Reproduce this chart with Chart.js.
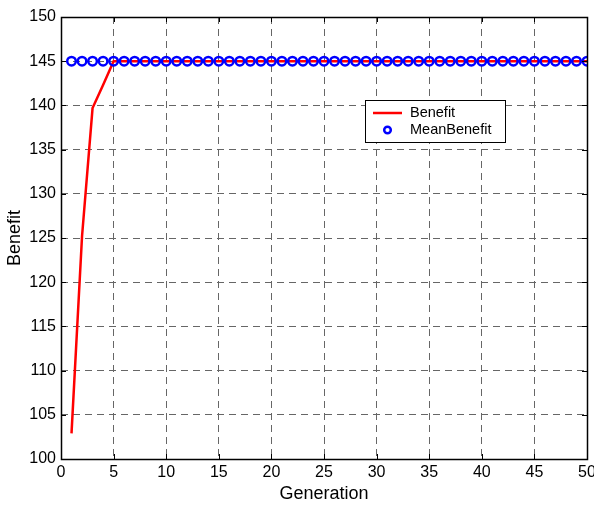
<!DOCTYPE html>
<html>
<head>
<meta charset="utf-8">
<script src="https://cdn.jsdelivr.net/npm/chart.js@4"></script>
<style>
  html, body { margin: 0; padding: 0; background: #fff; }
  #wrap { width: 594px; height: 505px; }
</style>
</head>
<body>
<div id="wrap"><canvas id="benefitChart" width="594" height="505"></canvas></div>
<script>
const generations = [1, 2, 3, 4, 5, 6, 7, 8, 9, 10, 11, 12, 13, 14, 15, 16, 17, 18, 19, 20,
    21, 22, 23, 24, 25, 26, 27, 28, 29, 30, 31, 32, 33, 34, 35, 36, 37, 38, 39, 40,
    41, 42, 43, 44, 45, 46, 47, 48, 49, 50];
const benefit = [102.9, 125.2, 139.7, 142.3, 145, 145, 145, 145, 145, 145,
    145, 145, 145, 145, 145, 145, 145, 145, 145, 145,
    145, 145, 145, 145, 145, 145, 145, 145, 145, 145,
    145, 145, 145, 145, 145, 145, 145, 145, 145, 145,
    145, 145, 145, 145, 145, 145, 145, 145, 145, 145];
const meanBenefit = [145, 145, 145, 145, 145, 145, 145, 145, 145, 145,
    145, 145, 145, 145, 145, 145, 145, 145, 145, 145,
    145, 145, 145, 145, 145, 145, 145, 145, 145, 145,
    145, 145, 145, 145, 145, 145, 145, 145, 145, 145,
    145, 145, 145, 145, 145, 145, 145, 145, 145, 145];
const xTicks = [0, 5, 10, 15, 20, 25, 30, 35, 40, 45, 50];
const yTicks = [100, 105, 110, 115, 120, 125, 130, 135, 140, 145, 150];

const FONT = 'Arial, "Liberation Sans", sans-serif';
const NARROW = '"Liberation Sans Narrow", "Arial Narrow", "Liberation Sans", sans-serif';

// black frame with inward tick marks on all four sides
const framePlugin = {
    id: 'frame',
    afterDatasetsDraw(chart) {
        const { ctx, chartArea: a, scales } = chart;
        ctx.save();
        ctx.strokeStyle = '#000';
        ctx.lineWidth = 1;
        ctx.beginPath();
        xTicks.forEach(v => {
            const x = Math.round(scales.x.getPixelForValue(v)) + 0.5;
            ctx.moveTo(x, a.bottom); ctx.lineTo(x, a.bottom - 5);
            ctx.moveTo(x, a.top); ctx.lineTo(x, a.top + 5);
        });
        yTicks.forEach(v => {
            const y = Math.round(scales.y.getPixelForValue(v)) + 0.5;
            ctx.moveTo(a.left, y); ctx.lineTo(a.left + 5, y);
            ctx.moveTo(a.right, y); ctx.lineTo(a.right - 5, y);
        });
        ctx.stroke();
        ctx.lineWidth = 1.5;
        ctx.strokeRect(Math.round(a.left) + 0.5, Math.round(a.top) + 0.5,
            Math.round(a.right - a.left), Math.round(a.bottom - a.top));
        ctx.restore();
    }
};

// boxed legend floating inside the plot
const legendBoxPlugin = {
    id: 'legendBox',
    afterDraw(chart) {
        const { ctx } = chart;
        const bx = 365, by = 100, bw = 140, bh = 42;
        ctx.save();
        ctx.fillStyle = '#fff';
        ctx.fillRect(bx, by, bw, bh);
        ctx.strokeStyle = '#000';
        ctx.lineWidth = 1;
        ctx.strokeRect(bx + 0.5, by + 0.5, bw, bh);

        ctx.strokeStyle = '#ff0000';
        ctx.lineWidth = 2.5;
        ctx.beginPath();
        ctx.moveTo(373, 113);
        ctx.lineTo(402, 113);
        ctx.stroke();

        ctx.strokeStyle = '#0000ff';
        ctx.lineWidth = 2.5;
        ctx.beginPath();
        ctx.arc(387.5, 130, 3.3, 0, Math.PI * 2);
        ctx.stroke();

        ctx.fillStyle = '#000';
        ctx.font = '14.5px ' + FONT;
        ctx.textBaseline = 'middle';
        ctx.fillText(chart.data.datasets[0].label, 410, 113);
        ctx.fillText(chart.data.datasets[1].label, 410, 130);
        ctx.restore();
    }
};

const ctx = document.getElementById('benefitChart').getContext('2d');
new Chart(ctx, {
    type: 'line',
    data: {
        datasets: [{
            label: 'Benefit',
            data: generations.map((g, i) => ({ x: g, y: benefit[i] })),
            borderColor: '#ff0000',
            borderWidth: 2.5,
            pointRadius: 0,
            tension: 0,
            order: 1
        }, {
            label: 'MeanBenefit',
            data: generations.map((g, i) => ({ x: g, y: meanBenefit[i] })),
            showLine: false,
            borderColor: '#0000ff',
            backgroundColor: 'rgba(0,0,0,0)',
            pointRadius: 4.3,
            pointBorderWidth: 2.5,
            order: 0
        }]
    },
    options: {
        responsive: false,
        animation: false,
        layout: { padding: { left: 0, top: 17, right: 7, bottom: 0 } },
        plugins: {
            legend: { display: false },
            tooltip: { enabled: false }
        },
        scales: {
            x: {
                type: 'linear',
                min: 0,
                max: 50,
                afterBuildTicks: s => { s.ticks = xTicks.map(v => ({ value: v })); },
                afterFit: s => { s.height = 46; s.paddingLeft = 0; s.paddingRight = 0; },
                grid: {
                    color: '#666',
                    lineWidth: 1,
                    drawTicks: false
                },
                border: { display: false, dash: [7, 5] },
                ticks: {
                    color: '#000',
                    font: { family: NARROW, size: 16 },
                    padding: 4,
                    maxRotation: 0
                },
                title: {
                    display: true,
                    text: 'Generation',
                    color: '#000',
                    font: { family: FONT, size: 18 },
                    padding: { top: 0, bottom: 0 }
                }
            },
            y: {
                min: 100,
                max: 150,
                afterBuildTicks: s => { s.ticks = yTicks.map(v => ({ value: v })); },
                afterFit: s => { s.width = 61; },
                grid: {
                    color: '#666',
                    lineWidth: 1,
                    drawTicks: false
                },
                border: { display: false, dash: [7, 5] },
                ticks: {
                    color: '#000',
                    font: { family: NARROW, size: 16 },
                    padding: 5
                },
                title: {
                    display: true,
                    text: 'Benefit',
                    color: '#000',
                    font: { family: FONT, size: 18 },
                    padding: { top: 4, bottom: 0 }
                }
            }
        }
    },
    plugins: [framePlugin, legendBoxPlugin]
});
</script>
</body>
</html>
